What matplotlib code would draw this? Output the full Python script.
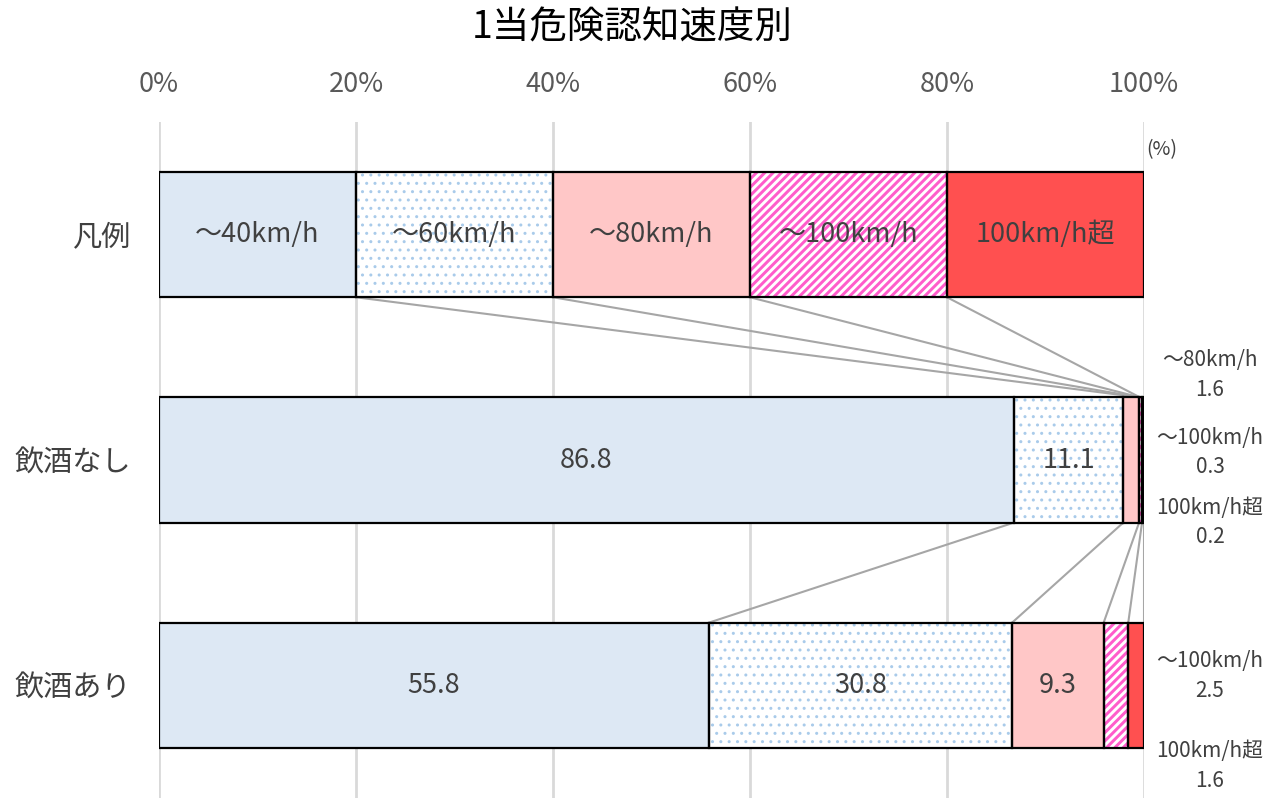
import matplotlib
matplotlib.use("Agg")
import matplotlib.pyplot as plt
import numpy as np

plt.rcParams['font.family'] = ['Noto Sans CJK JP', 'DejaVu Sans']

title = "1当危険認知速度別"
categories = ["凡例", "飲酒なし", "飲酒あり"]
series_names = ["～40km/h", "～60km/h", "～80km/h", "～100km/h", "100km/h超"]
legend_vals = [20, 20, 20, 20, 20]
nashi_vals = [86.8, 11.1, 1.6, 0.3, 0.2]
ari_vals = [55.8, 30.8, 9.3, 2.5, 1.6]
xticks = [0, 20, 40, 60, 80, 100]
xtick_labels = ["0%", "20%", "40%", "60%", "80%", "100%"]

face = ['#DDE8F4', 'white', '#FFC7C7', '#FF5CCB', '#FF5050']
hatches = [None, '..', None, '////', None]
hatch_col = [None, '#A9CBEA', None, 'white', None]
hatch_lw = [None, 1.0, None, 2.1, None]

fig = plt.figure(figsize=(12.67, 7.98), dpi=100)
ax = fig.add_axes([159/1267, 0.0, 985/1267, 1 - 122/798])

rows = [legend_vals, nashi_vals, ari_vals]
h = 125/225
for r, vals in enumerate(rows):
    left = 0
    for i, v in enumerate(vals):
        if hatches[i]:
            with plt.rc_context({'hatch.linewidth': hatch_lw[i]}):
                ax.barh(r, v, left=left, height=h, color=face[i], hatch=hatches[i],
                        edgecolor=hatch_col[i], linewidth=0, zorder=2)
        else:
            ax.barh(r, v, left=left, height=h, color=face[i], linewidth=0, zorder=2)
        ax.barh(r, v, left=left, height=h, fill=False, edgecolor='black',
                linewidth=1.6, zorder=3)
        left += v

# series lines
line_kw = dict(color='#A6A6A6', lw=1.5, zorder=1)
cl = np.cumsum(legend_vals)
cn = np.cumsum(nashi_vals)
ca = np.cumsum(ari_vals)
for i in range(4):
    ax.plot([cl[i], cn[2] + 0.1], [0 + h/2, 1 - h/2], **line_kw)
for i in range(5):
    ax.plot([cn[i], ca[i]], [1 + h/2, 2 - h/2], **line_kw)

# labels inside
tc = '#404040'
left = 0
for i, v in enumerate(legend_vals):
    ax.text(left + v/2, 0, series_names[i], ha='center', va='center', fontsize=19.5, color=tc, zorder=4)
    left += v
for r, vals in [(1, nashi_vals), (2, ari_vals)]:
    left = 0
    for i, v in enumerate(vals):
        if v >= 5:
            ax.text(left + v/2, r, f"{v:.1f}", ha='center', va='center', fontsize=19.5, color=tc, zorder=4)
        left += v

# outside labels
xo = 106.7
outside = [
    (0.624, series_names[2], nashi_vals[2]),
    (0.967, series_names[3], nashi_vals[3]),
    (1.278, series_names[4], nashi_vals[4]),
    (1.958, series_names[3], ari_vals[3]),
    (2.358, series_names[4], ari_vals[4]),
]
for y, name, v in outside:
    ax.text(xo, y, f"{name}\n{v:.1f}", ha='center', va='center', fontsize=15,
            color=tc, linespacing=1.45, clip_on=False)

ax.text(101.8, -0.376, "(%)", ha='center', va='center', fontsize=14, color=tc, clip_on=False)

ax.set_xlim(0, 100)
ax.set_ylim(2.5, -0.5)
ax.set_xticks(xticks)
ax.set_xticklabels(xtick_labels, fontsize=19.5, color='#595959')
ax.xaxis.tick_top()
ax.tick_params(axis='x', length=0, pad=17)
ax.set_yticks(range(len(categories)))
ax.set_yticklabels(categories, fontsize=21, color=tc)
ax.tick_params(axis='y', length=0, pad=20)
ax.grid(axis='x', color='#D9D9D9', lw=2, zorder=0)
ax.set_axisbelow(True)
for s in ax.spines.values():
    s.set_visible(False)

fig.text(632/1267, 1 - 28/798, title, ha='center', va='center', fontsize=27,
         fontweight='normal', color='black')

fig.savefig("out.png", dpi=100)
